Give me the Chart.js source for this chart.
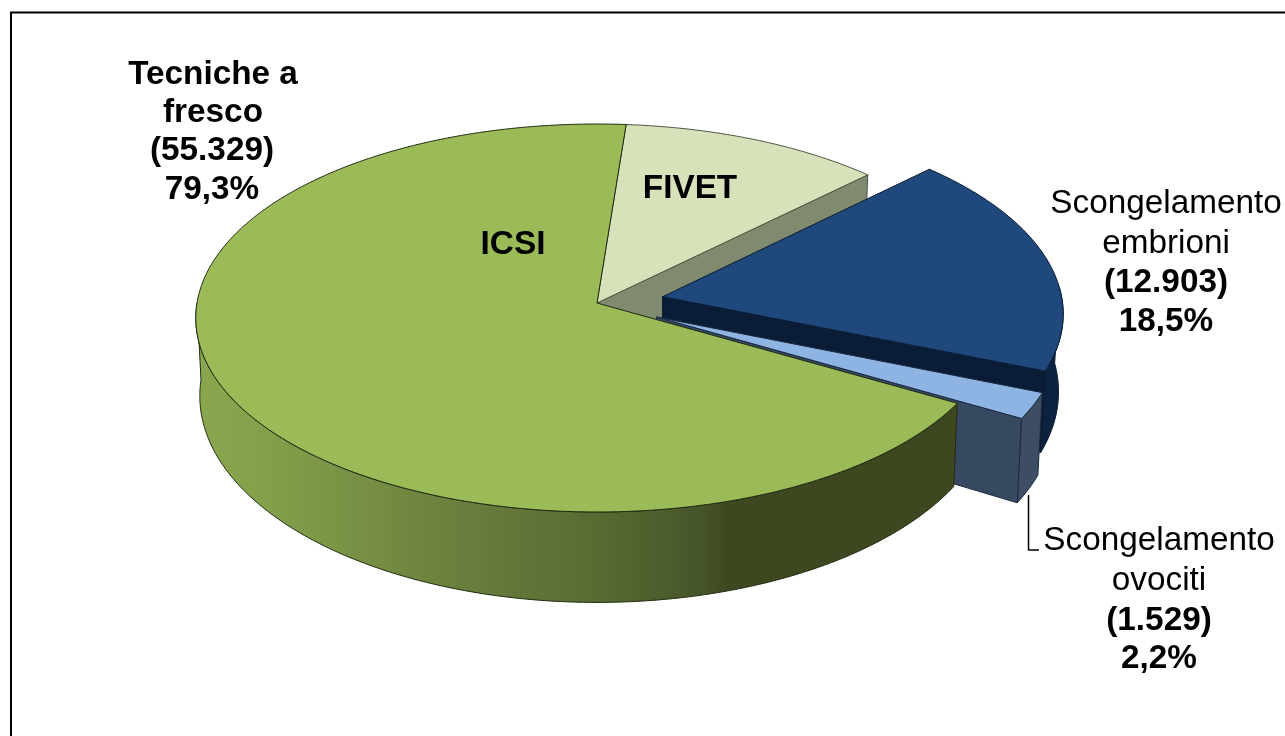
<!DOCTYPE html>
<html lang="it">
<head>
<meta charset="utf-8">
<title>Tecniche a fresco e scongelamento</title>
<script src="https://cdn.jsdelivr.net/npm/chart.js@4/dist/chart.umd.min.js"></script>
<style>
html,body{margin:0;padding:0;background:#fff;overflow:hidden}
canvas{display:block}
</style>
</head>
<body>
<canvas id="c" width="1285" height="736"></canvas>
<script>
// ---- data ----
const categories = ['FIVET', 'Scongelamento embrioni', 'Scongelamento ovociti', 'ICSI'];
const values = [7950, 12903, 1529, 47379];
const explode = [0, 67, 66, 0];
const topColors = ['#D7E2BB', '#1F497D', '#8DB4E2', '#9BBB59'];
const radialWallColors = ['#7F8A6E', '#0B1D36', '#374961', '#3F4D22'];
const outerWallColors = ['#7F8A6E', '#0B2240', '#3C4D64', null];
const edgeColors = ['#4d5540', '#0a1a30', '#1b2a40', '#1f2a10'];

const labelLines = [
  {x:213, y:84,  bold:true,  t:'Tecniche a'},
  {x:213, y:122, bold:true,  t:'fresco'},
  {x:212, y:160, bold:true,  t:'(55.329)'},
  {x:212, y:199, bold:true,  t:'79,3%'},
  {x:1166,y:213, bold:false, t:'Scongelamento'},
  {x:1166,y:253, bold:false, t:'embrioni'},
  {x:1166,y:292, bold:true,  t:'(12.903)'},
  {x:1166,y:331, bold:true,  t:'18,5%'},
  {x:1159,y:550, bold:false, t:'Scongelamento'},
  {x:1159,y:590, bold:false, t:'ovociti'},
  {x:1159,y:630, bold:true,  t:'(1.529)'},
  {x:1159,y:668, bold:true,  t:'2,2%'},
  {x:513, y:254, bold:true,  t:'ICSI'},
  {x:690, y:198, bold:true,  t:'FIVET'}
];

// ---- perspective projection of the pie disc onto the page ----
const CX = 597, CY = 303, HALF_W = 400, A = 169.4, C = -0.0773, DEPTH = 77, SHRINK = 0.99;
function top3d(u, v) {
  const w = 1 + C * v;
  return {x: CX + u * HALF_W / w, y: (v * A + CY) / w};
}
function bottom3d(u, v) {
  const p = top3d(u, v), w = 1 + C * v;
  return {x: CX + (p.x - CX) * SHRINK, y: p.y + DEPTH / (w * w)};
}
function arcPoints(o, a0, a1, proj) {
  const n = Math.max(2, Math.ceil(Math.abs(a1 - a0) / 0.01)), pts = [];
  for (let i = 0; i <= n; i++) {
    const a = a0 + (a1 - a0) * i / n;
    pts.push(proj(o.u + Math.cos(a), o.v + Math.sin(a)));
  }
  return pts;
}
function fillPoly(ctx, pts, fill, stroke) {
  ctx.beginPath();
  pts.forEach((p, i) => i ? ctx.lineTo(p.x, p.y) : ctx.moveTo(p.x, p.y));
  ctx.closePath();
  ctx.fillStyle = fill;
  ctx.fill();
  ctx.lineWidth = 1;
  ctx.strokeStyle = stroke;
  ctx.lineJoin = 'round';
  ctx.stroke();
}

const pie3d = {
  id: 'pie3d',
  beforeDatasetDraw(chart, args) {
    const ctx = chart.ctx;
    const meta = args.meta;
    // back-to-front is simply the data order
    meta.data.forEach((el, i) => {
      const props = el.getProps(['startAngle', 'endAngle', 'outerRadius']);
      const a0 = props.startAngle, a1 = props.endAngle, R = props.outerRadius;
      const off = (el.options.offset || 0) / R, mid = (a0 + a1) / 2;
      const o = {u: Math.cos(mid) * off, v: Math.sin(mid) * off};
      const edge = edgeColors[i];

      // curved outer wall: only the part that faces the viewer
      const w0 = Math.max(a0, -0.05), w1 = Math.min(a1, Math.PI);
      if (w1 > w0) {
        const tw = arcPoints(o, w0, w1, top3d), bw = arcPoints(o, w0, w1, bottom3d);
        let fill = outerWallColors[i];
        if (!fill) {
          const g = ctx.createLinearGradient(196, 0, 957, 0);
          g.addColorStop(0, '#8AA64E');
          g.addColorStop(0.09, '#84A04A');
          g.addColorStop(0.334, '#6C803E');
          g.addColorStop(0.53, '#586A32');
          g.addColorStop(0.66, '#47562A');
          g.addColorStop(0.70, '#3E4820');
          g.addColorStop(1, '#3E4820');
          fill = g;
        }
        fillPoly(ctx, tw.concat(bw.reverse()), fill, edge);
      }
      // radial side wall on the clockwise end of the slice
      if (Math.sin(a1 + Math.PI / 2) > 0.2) {
        const e = {u: o.u + Math.cos(a1), v: o.v + Math.sin(a1)};
        fillPoly(ctx, [top3d(o.u, o.v), top3d(e.u, e.v), bottom3d(e.u, e.v), bottom3d(o.u, o.v)],
          radialWallColors[i], edge);
      }
      // top face
      fillPoly(ctx, [top3d(o.u, o.v)].concat(arcPoints(o, a0, a1, top3d)), el.options.backgroundColor, edge);
    });
    return false;
  },
  afterDraw(chart) {
    const ctx = chart.ctx;
    ctx.save();
    // outer frame
    ctx.strokeStyle = '#000';
    ctx.lineWidth = 2;
    ctx.beginPath();
    ctx.moveTo(11, 736);
    ctx.lineTo(11, 12.5);
    ctx.lineTo(1285, 12.5);
    ctx.stroke();
    // leader line
    ctx.lineWidth = 1.5;
    ctx.beginPath();
    ctx.moveTo(1028.5, 495);
    ctx.lineTo(1028.5, 550);
    ctx.lineTo(1039, 550);
    ctx.stroke();
    // labels
    ctx.fillStyle = '#000';
    ctx.textAlign = 'center';
    ctx.textBaseline = 'alphabetic';
    labelLines.forEach(l => {
      ctx.font = (l.bold ? 'bold ' : '') + '33.3px "Liberation Sans", Arial, sans-serif';
      ctx.fillText(l.t, l.x, l.y);
    });
    ctx.restore();
  }
};

new Chart(document.getElementById('c'), {
  type: 'pie',
  data: {
    labels: categories,
    datasets: [{
      data: values,
      backgroundColor: topColors,
      offset: explode,
      borderWidth: 0
    }]
  },
  options: {
    responsive: false,
    animation: false,
    rotation: 4.5,
    radius: 400,
    plugins: {legend: {display: false}, title: {display: false}, tooltip: {enabled: false}}
  },
  plugins: [pie3d]
});
</script>
</body>
</html>
